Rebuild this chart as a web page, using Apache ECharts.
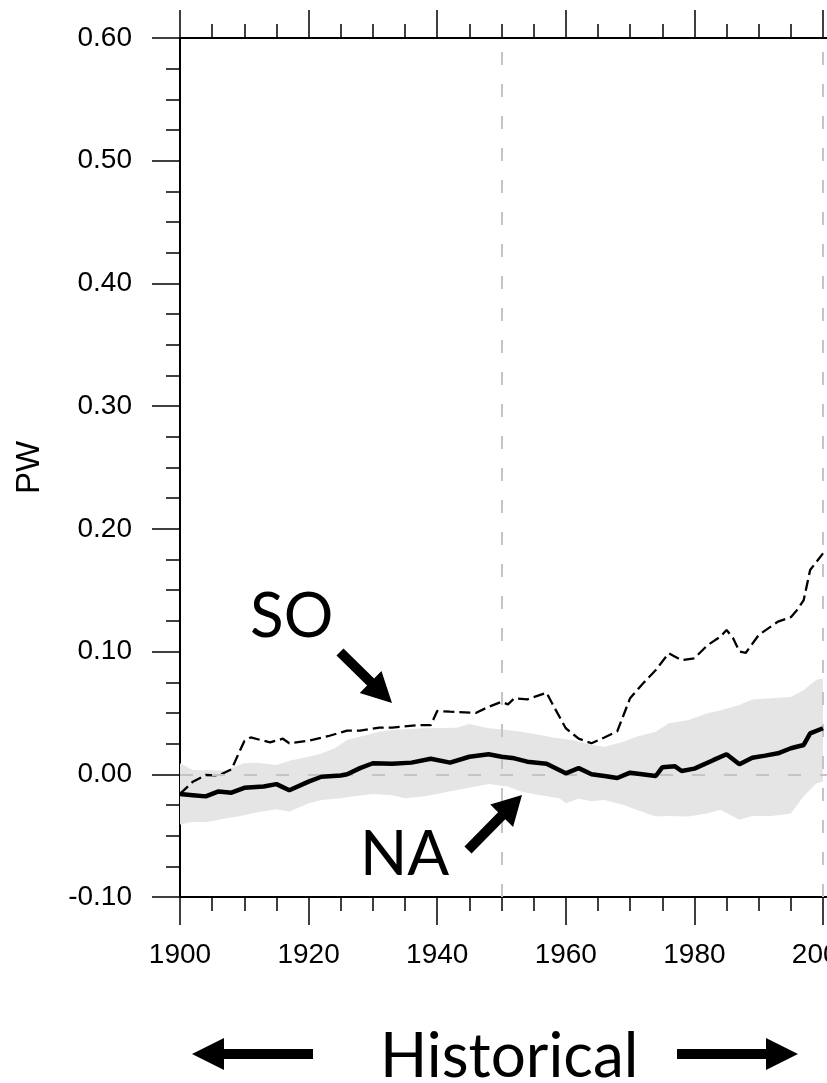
<!DOCTYPE html>
<html>
<head>
<meta charset="utf-8">
<script src="https://cdn.jsdelivr.net/npm/echarts@6.0.0/dist/echarts.min.js"></script>
<style>
  html, body { margin: 0; padding: 0; background: #fff; }
  #chart { width: 827px; height: 1083px; }
</style>
</head>
<body>
<div id="chart"></div>
<script>
// values (PW)
const naYears = [1900,1902,1904,1906,1908,1910,1913,1915,1917,1920,1922,1925,1926,1928,1930,1933,1936,1939,1942,1945,1948,1950,1952,1954,1957,1960,1962,1964,1966,1968,1970,1974,1975,1977,1978,1980,1983,1985,1987,1989,1991,1993,1995,1997,1998,2000];
const naValues = [-0.016,-0.017,-0.018,-0.014,-0.015,-0.011,-0.010,-0.008,-0.013,-0.006,-0.002,-0.001,0.000,0.005,0.009,0.0085,0.0095,0.0127,0.0095,0.0143,0.0163,0.0143,0.013,0.0103,0.0086,0.0008,0.005,0.000,-0.0014,-0.003,0.0013,-0.0014,0.0057,0.0065,0.0027,0.0046,0.0117,0.0163,0.0081,0.0135,0.0152,0.0171,0.0212,0.0239,0.0334,0.0375];

const soYears = [1900,1902,1904,1906,1908,1910,1911,1914,1916,1917,1920,1923,1926,1928,1931,1933,1937,1939,1940,1942,1946,1948,1950,1951,1952,1954,1957,1958,1960,1962,1964,1966,1968,1970,1972,1974,1976,1978,1980,1982,1984,1985,1986,1987,1988,1990,1993,1995,1996,1997,1998,2000];
const soValues = [-0.016,-0.006,-0.0006,-0.001,0.004,0.027,0.030,0.026,0.029,0.0253,0.0274,0.031,0.0356,0.0356,0.038,0.038,0.040,0.040,0.0516,0.051,0.050,0.055,0.059,0.057,0.062,0.061,0.0665,0.0565,0.0375,0.029,0.0253,0.030,0.035,0.062,0.074,0.085,0.0986,0.093,0.0945,0.105,0.112,0.1176,0.111,0.100,0.099,0.1135,0.1244,0.128,0.134,0.142,0.1665,0.180];

// grey spread around NA
const bandUpperYears = [1900,1902,1907,1910,1912,1915,1917,1920,1922,1924,1926,1929,1931,1933,1938,1943,1945,1948,1951,1953,1956,1958,1961,1964,1966,1969,1971,1974,1976,1979,1982,1984,1987,1989,1992,1995,1997,1999,2000];
const bandUpper = [0.009,0.0035,0.003,0.009,0.0095,0.0076,0.011,0.0143,0.017,0.021,0.028,0.032,0.0347,0.036,0.0375,0.038,0.041,0.0375,0.036,0.0347,0.032,0.030,0.028,0.024,0.0225,0.0266,0.0306,0.0347,0.0416,0.044,0.0497,0.052,0.0565,0.061,0.062,0.063,0.0687,0.077,0.078];
const bandLowerYears = [1900,1902,1904,1907,1909,1912,1915,1917,1920,1922,1925,1927,1930,1933,1935,1938,1940,1943,1946,1948,1951,1953,1956,1959,1960,1962,1964,1966,1969,1971,1974,1976,1979,1982,1984,1987,1989,1992,1995,1997,1999,2000];
const bandLower = [-0.041,-0.0386,-0.039,-0.036,-0.0345,-0.031,-0.0285,-0.0305,-0.0236,-0.021,-0.0196,-0.018,-0.016,-0.017,-0.0196,-0.018,-0.016,-0.0128,-0.010,-0.008,-0.010,-0.014,-0.017,-0.0196,-0.0236,-0.020,-0.022,-0.021,-0.025,-0.029,-0.0345,-0.034,-0.0345,-0.032,-0.029,-0.037,-0.034,-0.034,-0.032,-0.018,-0.0073,-0.006];

const guideYears = [1950, 2000];

const axisFont = 'Liberation Sans';
const noteFont = 'Lato';

function zip(xs, ys) {
    return xs.map((x, i) => [x, ys[i]]);
}

// fat arrow as a polygon, tail -> tip
function arrow(x1, y1, x2, y2, w, headLen, headW) {
    let dx = x2 - x1, dy = y2 - y1;
    let len = Math.sqrt(dx * dx + dy * dy);
    let ux = dx / len, uy = dy / len;
    let nx = -uy, ny = ux;
    let bx = x2 - ux * headLen, by = y2 - uy * headLen;
    return {
        type: 'polygon',
        shape: {
            points: [
                [x1 + nx * w / 2, y1 + ny * w / 2],
                [bx + nx * w / 2, by + ny * w / 2],
                [bx + nx * headW / 2, by + ny * headW / 2],
                [x2, y2],
                [bx - nx * headW / 2, by - ny * headW / 2],
                [bx - nx * w / 2, by - ny * w / 2],
                [x1 - nx * w / 2, y1 - ny * w / 2]
            ]
        },
        style: { fill: '#000' },
        z: 100
    };
}

function note(text, x, y) {
    return {
        type: 'text',
        x: x, y: y,
        style: {
            text: text,
            font: '62px ' + noteFont,
            fill: '#000',
            align: 'left',
            verticalAlign: 'middle'
        },
        z: 100
    };
}

const xAxisBase = {
    type: 'value',
    min: 1900,
    max: 2100,
    interval: 20,
    splitLine: { show: false },
    axisLine: { onZero: false, lineStyle: { color: '#000', width: 2 } },
    axisTick: { inside: false, length: 28, lineStyle: { color: '#000', width: 1.5 } },
    minorTick: { show: true, splitNumber: 4, length: 14, lineStyle: { color: '#000', width: 1.5 } }
};

let chart = echarts.init(document.getElementById('chart'), null, { renderer: 'canvas' });

chart.setOption({
    animation: false,
    backgroundColor: '#fff',
    // the plot runs on past the right edge of the page (only 1900-2000 shows)
    grid: { left: 180, top: 38, width: 1286, height: 859, containLabel: false, outerBoundsMode: 'none' },
    xAxis: [
        Object.assign({}, xAxisBase, {
            position: 'bottom',
            axisLabel: {
                margin: 44,
                fontSize: 28,
                fontFamily: axisFont,
                color: '#000',
                hideOverlap: false,
                formatter: v => String(v)
            }
        }),
        Object.assign({}, xAxisBase, {
            position: 'top',
            axisLabel: { show: false }
        })
    ],
    yAxis: {
        type: 'value',
        min: -0.1,
        max: 0.6,
        interval: 0.1,
        name: 'PW',
        nameLocation: 'middle',
        nameRotate: 90,
        nameGap: 134,
        nameTextStyle: { fontSize: 33, fontFamily: axisFont, color: '#000' },
        splitLine: { show: false },
        axisLine: { lineStyle: { color: '#000', width: 2 } },
        axisTick: { inside: false, length: 28, lineStyle: { color: '#000', width: 1.5 } },
        minorTick: { show: true, splitNumber: 4, length: 14, lineStyle: { color: '#000', width: 1.5 } },
        axisLabel: {
            margin: 48,
            fontSize: 28,
            fontFamily: axisFont,
            color: '#000',
            formatter: v => v.toFixed(2)
        }
    },
    series: [
        {
            // spread band, drawn as one polygon through the axes
            type: 'custom',
            z: 1,
            silent: true,
            data: [[1900, 0]],
            renderItem: function (params, api) {
                if (params.dataIndex !== 0) return;
                let pts = [];
                bandUpperYears.forEach((yr, i) => pts.push(api.coord([yr, bandUpper[i]])));
                for (let i = bandLowerYears.length - 1; i >= 0; i--) {
                    pts.push(api.coord([bandLowerYears[i], bandLower[i]]));
                }
                return { type: 'polygon', shape: { points: pts }, style: { fill: '#e5e5e5' } };
            }
        },
        {
            name: 'guides',
            type: 'line',
            z: 3,
            data: [],
            markLine: {
                silent: true,
                symbol: 'none',
                label: { show: false },
                lineStyle: { color: '#c4c4c4', width: 2, type: [13, 19] },
                data: guideYears.map(y => ({ xAxis: y })).concat([{ yAxis: 0 }])
            }
        },
        {
            name: 'SO',
            type: 'line',
            z: 4,
            data: zip(soYears, soValues),
            showSymbol: false,
            lineStyle: { color: '#000', width: 2.3, type: [11, 5] }
        },
        {
            name: 'NA',
            type: 'line',
            z: 5,
            data: zip(naYears, naValues),
            showSymbol: false,
            lineStyle: { color: '#000', width: 4.5 }
        }
    ],
    graphic: [
        note('SO', 250, 617),
        arrow(340, 652, 392, 703, 10, 30, 31),
        note('NA', 360, 855),
        arrow(468, 850, 522, 795, 10, 29, 32),
        note('Historical', 380, 1057),
        arrow(313, 1054, 192, 1054, 10, 32, 32),
        arrow(677, 1054, 798, 1054, 10, 32, 32)
    ]
});
</script>
</body>
</html>
